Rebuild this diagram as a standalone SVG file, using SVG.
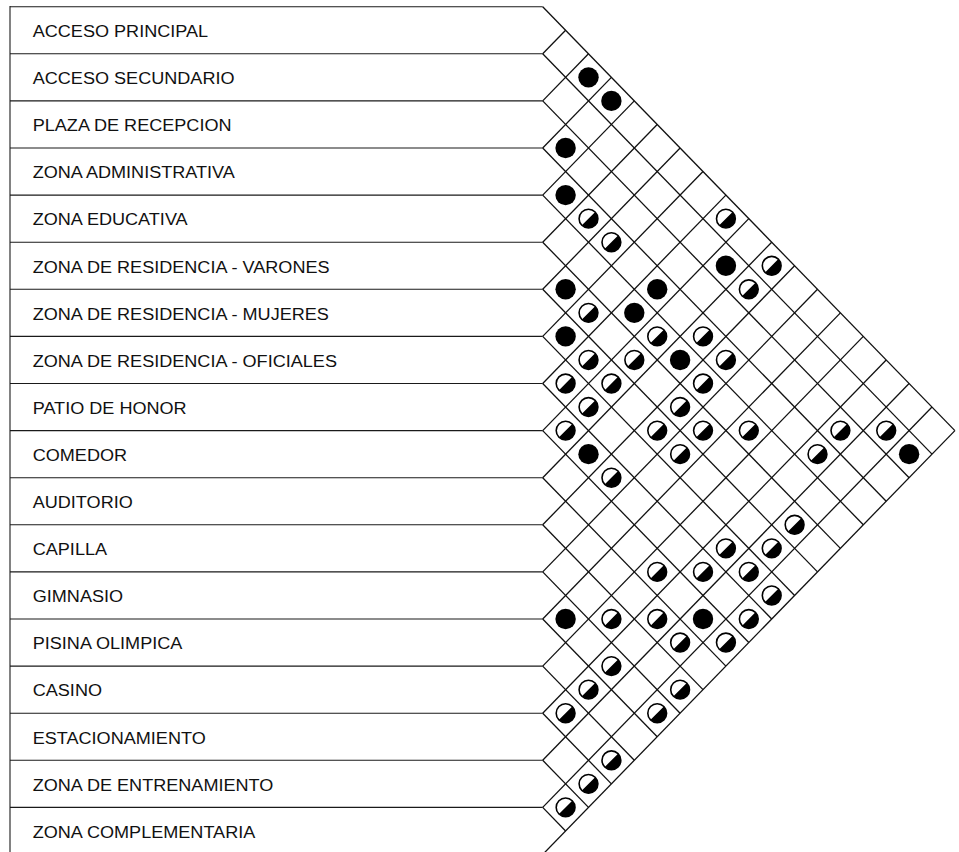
<svg xmlns="http://www.w3.org/2000/svg" xmlns:xlink="http://www.w3.org/1999/xlink" width="959" height="852" viewBox="0 0 959 852">
<style>
.frame{stroke:#1a1a1a;stroke-width:1.1;fill:none}
.grid line{stroke:#111;stroke-width:1.3}
.lbl{font-family:"Liberation Sans",Arial,sans-serif;font-size:16px;fill:#111}
.strong{fill:#000}
</style>
<defs>
<g id="half">
<circle r="9.4" fill="#fff" stroke="#000" stroke-width="1.6"/>
<path d="M-6.65,6.65 A9.4,9.4 0 0 0 6.65,-6.65 Z" fill="#000"/>
</g>
<circle id="full" r="10.2" fill="#000"/>
</defs>
<rect width="959" height="852" fill="#fff"/>
<g id="table" class="frame">
<line x1="10" y1="6" x2="10" y2="852"/>
<line x1="10" y1="6.7" x2="542.7" y2="6.7"/>
<line x1="10" y1="53.8" x2="542.7" y2="53.8"/>
<line x1="10" y1="100.9" x2="542.7" y2="100.9"/>
<line x1="10" y1="148" x2="542.7" y2="148"/>
<line x1="10" y1="195.1" x2="542.7" y2="195.1"/>
<line x1="10" y1="242.2" x2="542.7" y2="242.2"/>
<line x1="10" y1="289.3" x2="542.7" y2="289.3"/>
<line x1="10" y1="336.4" x2="542.7" y2="336.4"/>
<line x1="10" y1="383.5" x2="542.7" y2="383.5"/>
<line x1="10" y1="430.6" x2="542.7" y2="430.6"/>
<line x1="10" y1="477.7" x2="542.7" y2="477.7"/>
<line x1="10" y1="524.8" x2="542.7" y2="524.8"/>
<line x1="10" y1="571.9" x2="542.7" y2="571.9"/>
<line x1="10" y1="619" x2="542.7" y2="619"/>
<line x1="10" y1="666.1" x2="542.7" y2="666.1"/>
<line x1="10" y1="713.2" x2="542.7" y2="713.2"/>
<line x1="10" y1="760.3" x2="542.7" y2="760.3"/>
<line x1="10" y1="807.4" x2="542.7" y2="807.4"/>
<line x1="10" y1="854.5" x2="542.7" y2="854.5"/>
</g>
<g id="connectors" class="grid">
<line x1="542.7" y1="6.7" x2="954.9" y2="430.6"/>
<line x1="542.7" y1="53.8" x2="565.6" y2="30.25"/>
<line x1="542.7" y1="53.8" x2="932" y2="454.15"/>
<line x1="542.7" y1="100.9" x2="588.5" y2="53.8"/>
<line x1="542.7" y1="100.9" x2="909.1" y2="477.7"/>
<line x1="542.7" y1="148" x2="611.4" y2="77.35"/>
<line x1="542.7" y1="148" x2="886.2" y2="501.25"/>
<line x1="542.7" y1="195.1" x2="634.3" y2="100.9"/>
<line x1="542.7" y1="195.1" x2="863.3" y2="524.8"/>
<line x1="542.7" y1="242.2" x2="657.2" y2="124.45"/>
<line x1="542.7" y1="242.2" x2="840.4" y2="548.35"/>
<line x1="542.7" y1="289.3" x2="680.1" y2="148"/>
<line x1="542.7" y1="289.3" x2="817.5" y2="571.9"/>
<line x1="542.7" y1="336.4" x2="703" y2="171.55"/>
<line x1="542.7" y1="336.4" x2="794.6" y2="595.45"/>
<line x1="542.7" y1="383.5" x2="725.9" y2="195.1"/>
<line x1="542.7" y1="383.5" x2="771.7" y2="619"/>
<line x1="542.7" y1="430.6" x2="748.8" y2="218.65"/>
<line x1="542.7" y1="430.6" x2="748.8" y2="642.55"/>
<line x1="542.7" y1="477.7" x2="771.7" y2="242.2"/>
<line x1="542.7" y1="477.7" x2="725.9" y2="666.1"/>
<line x1="542.7" y1="524.8" x2="794.6" y2="265.75"/>
<line x1="542.7" y1="524.8" x2="703" y2="689.65"/>
<line x1="542.7" y1="571.9" x2="817.5" y2="289.3"/>
<line x1="542.7" y1="571.9" x2="680.1" y2="713.2"/>
<line x1="542.7" y1="619" x2="840.4" y2="312.85"/>
<line x1="542.7" y1="619" x2="657.2" y2="736.75"/>
<line x1="542.7" y1="666.1" x2="863.3" y2="336.4"/>
<line x1="542.7" y1="666.1" x2="634.3" y2="760.3"/>
<line x1="542.7" y1="713.2" x2="886.2" y2="359.95"/>
<line x1="542.7" y1="713.2" x2="611.4" y2="783.85"/>
<line x1="542.7" y1="760.3" x2="909.1" y2="383.5"/>
<line x1="542.7" y1="760.3" x2="588.5" y2="807.4"/>
<line x1="542.7" y1="807.4" x2="932" y2="407.05"/>
<line x1="542.7" y1="807.4" x2="565.6" y2="830.95"/>
<line x1="542.7" y1="854.5" x2="954.9" y2="430.6"/>
</g>
<g id="row1"><text class="lbl" transform="translate(32.7,37.05) scale(1.13,1)">ACCESO PRINCIPAL</text></g>
<g id="row2"><text class="lbl" transform="translate(32.7,84.15) scale(1.13,1)">ACCESO SECUNDARIO</text></g>
<g id="row3"><text class="lbl" transform="translate(32.7,131.25) scale(1.13,1)">PLAZA DE RECEPCION</text></g>
<g id="row4"><text class="lbl" transform="translate(32.7,178.35) scale(1.13,1)">ZONA ADMINISTRATIVA</text></g>
<g id="row5"><text class="lbl" transform="translate(32.7,225.45) scale(1.13,1)">ZONA EDUCATIVA</text></g>
<g id="row6"><text class="lbl" transform="translate(32.7,272.55) scale(1.13,1)">ZONA DE RESIDENCIA - VARONES</text></g>
<g id="row7"><text class="lbl" transform="translate(32.7,319.65) scale(1.13,1)">ZONA DE RESIDENCIA - MUJERES</text></g>
<g id="row8"><text class="lbl" transform="translate(32.7,366.75) scale(1.13,1)">ZONA DE RESIDENCIA - OFICIALES</text></g>
<g id="row9"><text class="lbl" transform="translate(32.7,413.85) scale(1.13,1)">PATIO DE HONOR</text></g>
<g id="row10"><text class="lbl" transform="translate(32.7,460.95) scale(1.13,1)">COMEDOR</text></g>
<g id="row11"><text class="lbl" transform="translate(32.7,508.05) scale(1.13,1)">AUDITORIO</text></g>
<g id="row12"><text class="lbl" transform="translate(32.7,555.15) scale(1.13,1)">CAPILLA</text></g>
<g id="row13"><text class="lbl" transform="translate(32.7,602.25) scale(1.13,1)">GIMNASIO</text></g>
<g id="row14"><text class="lbl" transform="translate(32.7,649.35) scale(1.13,1)">PISINA OLIMPICA</text></g>
<g id="row15"><text class="lbl" transform="translate(32.7,696.45) scale(1.13,1)">CASINO</text></g>
<g id="row16"><text class="lbl" transform="translate(32.7,743.55) scale(1.13,1)">ESTACIONAMIENTO</text></g>
<g id="row17"><text class="lbl" transform="translate(32.7,790.65) scale(1.13,1)">ZONA DE ENTRENAMIENTO</text></g>
<g id="row18"><text class="lbl" transform="translate(32.7,837.75) scale(1.13,1)">ZONA COMPLEMENTARIA</text></g>
<g id="relations">
<use xlink:href="#full" href="#full" x="588.5" y="77.35"/>
<use xlink:href="#full" href="#full" x="611.4" y="100.9"/>
<use xlink:href="#full" href="#full" x="565.6" y="148"/>
<use xlink:href="#full" href="#full" x="565.6" y="195.1"/>
<use xlink:href="#half" href="#half" x="588.5" y="218.65"/>
<use xlink:href="#half" href="#half" x="725.9" y="218.65"/>
<use xlink:href="#half" href="#half" x="611.4" y="242.2"/>
<use xlink:href="#full" href="#full" x="725.9" y="265.75"/>
<use xlink:href="#half" href="#half" x="771.7" y="265.75"/>
<use xlink:href="#full" href="#full" x="565.6" y="289.3"/>
<use xlink:href="#full" href="#full" x="657.2" y="289.3"/>
<use xlink:href="#half" href="#half" x="748.8" y="289.3"/>
<use xlink:href="#half" href="#half" x="588.5" y="312.85"/>
<use xlink:href="#full" href="#full" x="634.3" y="312.85"/>
<use xlink:href="#full" href="#full" x="565.6" y="336.4"/>
<use xlink:href="#half" href="#half" x="657.2" y="336.4"/>
<use xlink:href="#half" href="#half" x="703" y="336.4"/>
<use xlink:href="#half" href="#half" x="588.5" y="359.95"/>
<use xlink:href="#half" href="#half" x="634.3" y="359.95"/>
<use xlink:href="#full" href="#full" x="680.1" y="359.95"/>
<use xlink:href="#half" href="#half" x="725.9" y="359.95"/>
<use xlink:href="#half" href="#half" x="565.6" y="383.5"/>
<use xlink:href="#half" href="#half" x="611.4" y="383.5"/>
<use xlink:href="#half" href="#half" x="703" y="383.5"/>
<use xlink:href="#half" href="#half" x="588.5" y="407.05"/>
<use xlink:href="#half" href="#half" x="680.1" y="407.05"/>
<use xlink:href="#half" href="#half" x="565.6" y="430.6"/>
<use xlink:href="#half" href="#half" x="657.2" y="430.6"/>
<use xlink:href="#half" href="#half" x="703" y="430.6"/>
<use xlink:href="#half" href="#half" x="748.8" y="430.6"/>
<use xlink:href="#half" href="#half" x="840.4" y="430.6"/>
<use xlink:href="#half" href="#half" x="886.2" y="430.6"/>
<use xlink:href="#full" href="#full" x="588.5" y="454.15"/>
<use xlink:href="#half" href="#half" x="680.1" y="454.15"/>
<use xlink:href="#half" href="#half" x="817.5" y="454.15"/>
<use xlink:href="#full" href="#full" x="909.1" y="454.15"/>
<use xlink:href="#half" href="#half" x="611.4" y="477.7"/>
<use xlink:href="#half" href="#half" x="794.6" y="524.8"/>
<use xlink:href="#half" href="#half" x="725.9" y="548.35"/>
<use xlink:href="#half" href="#half" x="771.7" y="548.35"/>
<use xlink:href="#half" href="#half" x="657.2" y="571.9"/>
<use xlink:href="#half" href="#half" x="703" y="571.9"/>
<use xlink:href="#half" href="#half" x="748.8" y="571.9"/>
<use xlink:href="#half" href="#half" x="771.7" y="595.45"/>
<use xlink:href="#full" href="#full" x="565.6" y="619"/>
<use xlink:href="#half" href="#half" x="611.4" y="619"/>
<use xlink:href="#half" href="#half" x="657.2" y="619"/>
<use xlink:href="#full" href="#full" x="703" y="619"/>
<use xlink:href="#half" href="#half" x="748.8" y="619"/>
<use xlink:href="#half" href="#half" x="680.1" y="642.55"/>
<use xlink:href="#half" href="#half" x="725.9" y="642.55"/>
<use xlink:href="#half" href="#half" x="611.4" y="666.1"/>
<use xlink:href="#half" href="#half" x="588.5" y="689.65"/>
<use xlink:href="#half" href="#half" x="680.1" y="689.65"/>
<use xlink:href="#half" href="#half" x="565.6" y="713.2"/>
<use xlink:href="#half" href="#half" x="657.2" y="713.2"/>
<use xlink:href="#half" href="#half" x="611.4" y="760.3"/>
<use xlink:href="#half" href="#half" x="588.5" y="783.85"/>
<use xlink:href="#half" href="#half" x="565.6" y="807.4"/>
</g>
</svg>
